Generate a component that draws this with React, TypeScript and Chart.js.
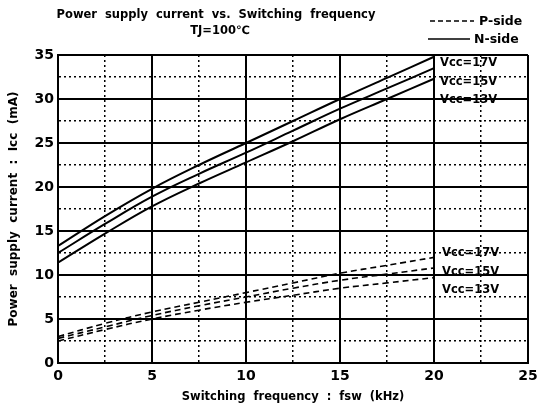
import React, { useEffect, useRef } from 'react';
import { Chart, registerables } from 'chart.js';

Chart.register(...registerables);

// ---- data ----
const freqKHz = [0, 2.5, 5, 7.5, 10, 12.5, 15, 17.5, 20];
const nSide17V = [13.3, 16.7, 19.8, 22.5, 25.0, 27.5, 30.0, 32.4, 34.8];
const nSide15V = [12.5, 15.8, 18.9, 21.5, 23.9, 26.4, 28.9, 31.2, 33.5];
const nSide13V = [11.4, 14.7, 17.8, 20.4, 22.8, 25.2, 27.7, 30.0, 32.3];
const pSide17V = [3.0, 4.5, 5.8, 6.9, 8.0, 9.1, 10.2, 11.1, 12.0];
const pSide15V = [2.8, 4.1, 5.4, 6.5, 7.5, 8.5, 9.4, 10.1, 10.8];
const pSide13V = [2.5, 3.8, 5.0, 6.0, 6.9, 7.7, 8.5, 9.1, 9.7];

const curveLabels = ['Vcc=17V', 'Vcc=15V', 'Vcc=13V'];
const nLabelValues = [34.1, 31.9, 29.9];
const pLabelValues = [12.5, 10.3, 8.3];
const labelAtFreq = 20;

const titleLine1 = 'Power  supply  current  vs.  Switching  frequency';
const titleLine2 = 'TJ=100℃';
const legendP = 'P-side';
const legendN = 'N-side';
const xTitle = 'Switching  frequency  :  fsw  (kHz)';
const yTitle = 'Power  supply  current  :  Icc  (mA)';

const xMin = 0, xMax = 25, yMin = 0, yMax = 35;
const tickStep = 2.5;
const labelStep = 5;

const FONT = '"DejaVu Sans", sans-serif';

const toPoints = (ys: number[]) => freqKHz.map((x, i) => ({ x, y: ys[i] }));

const isMajor = (v: number) => Math.abs(v / labelStep - Math.round(v / labelStep)) < 1e-6;

const annotatePlugin = {
  id: 'annotate',
  afterDatasetsDraw(chart: any) {
    const { ctx, scales } = chart;
    const xs = scales.x, ys = scales.y;
    ctx.save();
    ctx.fillStyle = '#000';
    ctx.strokeStyle = '#000';

    // title
    ctx.font = `bold 11.5px ${FONT}`;
    ctx.textAlign = 'center';
    ctx.textBaseline = 'middle';
    ctx.fillText(titleLine1, 216, 15);
    ctx.fillText(titleLine2, 220, 31);

    // legend
    ctx.lineWidth = 1.5;
    ctx.setLineDash([5, 3]);
    ctx.beginPath();
    ctx.moveTo(430, 21);
    ctx.lineTo(474, 21);
    ctx.stroke();
    ctx.setLineDash([]);
    ctx.beginPath();
    ctx.moveTo(428, 39);
    ctx.lineTo(470, 39);
    ctx.stroke();
    ctx.font = `bold 12.5px ${FONT}`;
    ctx.textAlign = 'left';
    ctx.fillText(legendP, 479, 22);
    ctx.fillText(legendN, 474, 40);

    // curve labels
    ctx.font = `bold 11.5px ${FONT}`;
    const lx = xs.getPixelForValue(labelAtFreq) + 6;
    curveLabels.forEach((t, i) => {
      ctx.fillText(t, lx, ys.getPixelForValue(nLabelValues[i]));
      ctx.fillText(t, lx + 2, ys.getPixelForValue(pLabelValues[i]));
    });
    ctx.restore();
  },
};

export default function App() {
  const canvasRef = useRef<HTMLCanvasElement | null>(null);

  useEffect(() => {
    if (!canvasRef.current) return;
    const solid = (data: number[], label: string) => ({
      label,
      data: toPoints(data),
      borderColor: '#000',
      borderWidth: 2,
      pointRadius: 0,
      tension: 0.4,
      fill: false,
    });
    const dashed = (data: number[], label: string) => ({
      ...solid(data, label),
      borderWidth: 1.6,
      borderDash: [6, 4],
    });

    const chart = new Chart(canvasRef.current, {
      type: 'line',
      data: {
        datasets: [
          solid(nSide17V, 'N-side Vcc=17V'),
          solid(nSide15V, 'N-side Vcc=15V'),
          solid(nSide13V, 'N-side Vcc=13V'),
          dashed(pSide17V, 'P-side Vcc=17V'),
          dashed(pSide15V, 'P-side Vcc=15V'),
          dashed(pSide13V, 'P-side Vcc=13V'),
        ],
      },
      options: {
        responsive: false,
        animation: false,
        devicePixelRatio: 1,
        layout: { padding: { left: 0, top: 55, right: 9, bottom: 0 } },
        plugins: {
          legend: { display: false },
          tooltip: { enabled: false },
          title: { display: false },
        },
        scales: {
          x: {
            type: 'linear',
            min: xMin,
            max: xMax,
            afterFit: (s: any) => {
              s.height = 46;
              s.paddingLeft = 0;
              s.paddingRight = 0;
            },
            ticks: {
              stepSize: tickStep,
              autoSkip: false,
              maxRotation: 0,
              padding: 5,
              color: '#000',
              font: { family: FONT, size: 14, weight: 'bold' },
              callback: (v: any) => (isMajor(Number(v)) ? String(v) : ''),
            },
            grid: {
              color: '#000',
              drawTicks: false,
              lineWidth: (c: any) => (c.tick && isMajor(c.tick.value) ? 2 : 1.5),
            },
            border: {
              display: true,
              color: '#000',
              width: 2,
              dash: (c: any) => (c.tick && !isMajor(c.tick.value) ? [2, 3] : []),
            },
            title: {
              display: true,
              text: xTitle,
              color: '#000',
              font: { family: FONT, size: 11.5, weight: 'bold' },
              padding: { top: 4, bottom: 5 },
            },
          },
          y: {
            type: 'linear',
            min: yMin,
            max: yMax,
            afterFit: (s: any) => {
              s.width = 58;
              s.paddingTop = 0;
              s.paddingBottom = 0;
            },
            ticks: {
              stepSize: tickStep,
              autoSkip: false,
              padding: 4,
              color: '#000',
              font: { family: FONT, size: 14, weight: 'bold' },
              callback: (v: any) => (isMajor(Number(v)) ? String(v) : ''),
            },
            grid: {
              color: '#000',
              drawTicks: false,
              lineWidth: (c: any) => (c.tick && isMajor(c.tick.value) ? 2 : 1.5),
            },
            border: {
              display: true,
              color: '#000',
              width: 2,
              dash: (c: any) => (c.tick && !isMajor(c.tick.value) ? [2, 3] : []),
            },
            title: {
              display: true,
              text: yTitle,
              color: '#000',
              font: { family: FONT, size: 12, weight: 'bold' },
              padding: { top: 7, bottom: 0 },
            },
          },
        },
      },
      plugins: [annotatePlugin],
    } as any);
    return () => chart.destroy();
  }, []);

  return (
    <div style={{ position: 'absolute', left: 0, top: 0, width: 537, height: 409, background: '#fff' }}>
      <canvas ref={canvasRef} width={537} height={409} style={{ display: 'block' }} />
    </div>
  );
}
